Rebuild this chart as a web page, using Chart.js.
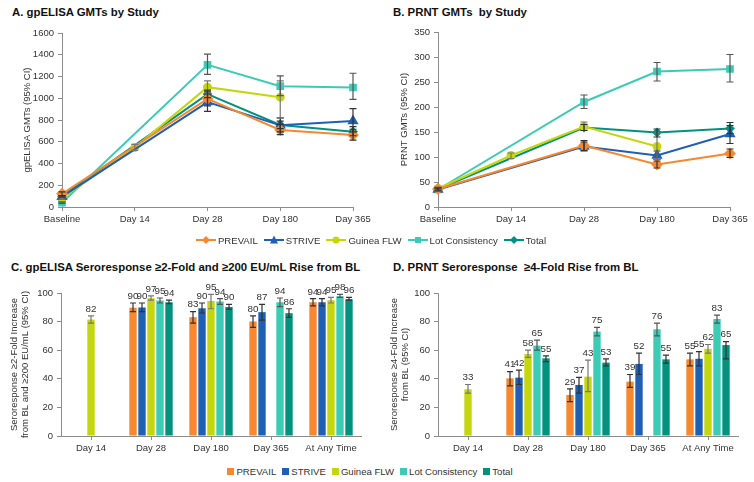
<!DOCTYPE html>
<html>
<head>
<meta charset="utf-8">
<script src="https://cdn.jsdelivr.net/npm/chart.js@4.4.1/dist/chart.umd.min.js"></script>
<style>
  body { margin: 0; background: #fff; font-family: "Liberation Sans", Arial, sans-serif; }
  #page { position: relative; width: 754px; height: 482px; overflow: hidden; }
  .box { position: absolute; }
  .title { position: absolute; font-weight: bold; font-size: 11.4px; color: #111; white-space: pre; }
  .legend { position: absolute; left: 0; display: flex; justify-content: center; align-items: center;
            font-size: 9.6px; color: #333; white-space: nowrap; }
  .legend .item { display: flex; align-items: center; margin: 0 3px; }
  .legend svg { margin-right: 2px; }
  .legend .sq { width: 7px; height: 7px; margin-right: 2px; display: inline-block; }
</style>
</head>
<body>
<div id="page">
  <div class="title" style="left:12px; top:6px;">A. gpELISA GMTs by Study</div>
  <div class="title" style="left:393px; top:6px;">B. PRNT GMTs  by Study</div>
  <div class="title" style="left:11px; top:261px;">C. gpELISA Seroresponse ≥2-Fold and ≥200 EU/mL Rise from BL</div>
  <div class="title" style="left:393px; top:261px;">D. PRNT Seroresponse  ≥4-Fold Rise from BL</div>

  <div class="box" style="left:0; top:0; width:377px; height:232px;"><canvas id="chartA"></canvas></div>
  <div class="box" style="left:377px; top:0; width:377px; height:232px;"><canvas id="chartB"></canvas></div>
  <div class="box" style="left:0; top:240px; width:377px; height:220px;"><canvas id="chartC"></canvas></div>
  <div class="box" style="left:377px; top:240px; width:377px; height:220px;"><canvas id="chartD"></canvas></div>

  <div class="legend" id="legendLines" style="top:232px; width:742px; height:16px;"></div>
  <div class="legend" id="legendBars" style="top:463px; width:740px; height:16px;"></div>
</div>

<script>
const timepoints = ["Baseline", "Day 14", "Day 28", "Day 180", "Day 365"];
const seroTimepoints = ["Day 14", "Day 28", "Day 180", "Day 365", "At Any Time"];
const seriesNames = ["PREVAIL", "STRIVE", "Guinea FLW", "Lot Consistency", "Total"];
const seriesColors = ["#F7882F", "#1F5FB4", "#C4D70E", "#3CCBB5", "#00927D"];
const markerStyles = ["rectRot", "triangle", "circle", "rect", "rectRot"];
const markerSizes = [4.5, 4.5, 3.5, 4, 3.5];
const errColors = ["#333", "#333", "#777", "#555", "#333"];

// A. gpELISA GMTs (rows follow seriesNames)
const elisaGmt = [
  [122, null, 995, 708, 662],
  [95, null, 965, 751, 791],
  [82, 546, 1102, 1010, null],
  [40, null, 1307, 1111, 1099],
  [98, null, 1038, 754, 693]
];
const elisaGmtLow = [
  [105, null, 930, 665, 615],
  [85, null, 880, 690, 690],
  [72, 520, 1050, 820, null],
  [33, null, 1220, 1025, 990],
  [92, null, 1005, 720, 655]
];
const elisaGmtHigh = [
  [140, null, 1060, 760, 715],
  [105, null, 1040, 820, 905],
  [92, 575, 1160, 1160, null],
  [48, null, 1405, 1205, 1230],
  [104, null, 1075, 790, 740]
];

// B. PRNT GMTs
const prntGmt = [
  [36, null, 123, 85, 107],
  [35, null, 121, 103, 146],
  [37, 103, 161, 121, null],
  [35, null, 210, 271, 276],
  [36, null, 159, 149, 157]
];
const prntGmtLow = [
  [33, null, 113, 78, 99],
  [32, null, 112, 95, 127],
  [34, 97, 153, 95, null],
  [32, null, 197, 252, 250],
  [34, null, 153, 140, 147]
];
const prntGmtHigh = [
  [39, null, 133, 92, 116],
  [38, null, 130, 112, 163],
  [40, 108, 170, 148, null],
  [38, null, 224, 289, 305],
  [38, null, 165, 156, 169]
];

// C. gpELISA seroresponse (%)
const elisaSero = [
  [null, 89.6, 83.1, 80.1, 93.6],
  [null, 89.8, 89.3, 86.6, 93.6],
  [81.4, 96.3, 94.4, null, 95.0],
  [null, 94.8, 94.0, 93.6, 97.8],
  [null, 93.5, 90.2, 85.9, 95.7]
];
const elisaSeroLabels = [
  [null, 90, 83, 80, 94],
  [null, 90, 90, 87, 94],
  [82, 97, 95, null, 95],
  [null, 95, 94, 94, 98],
  [null, 94, 90, 86, 96]
];
const elisaSeroLow = [
  [null, 87, 79, 76, 91],
  [null, 87, 86, 81, 91],
  [79, 95, 89, null, 93],
  [null, 93, 92, 90.5, 97],
  [null, 92.5, 88.5, 83, 95]
];
const elisaSeroHigh = [
  [null, 93, 87, 84, 96],
  [null, 93, 93, 92, 96],
  [84, 98, 99, null, 97],
  [null, 96.5, 96, 96.5, 99],
  [null, 95, 92, 89, 97]
];

// D. PRNT seroresponse (%)
const prntSero = [
  [null, 40.3, 28.7, 38.0, 53.6],
  [null, 40.8, 35.7, 50.4, 54.0],
  [32.6, 57.3, 41.5, null, 61.0],
  [null, 63.2, 73.0, 74.6, 81.8],
  [null, 54.3, 51.3, 53.6, 63.6]
];
const prntSeroLabels = [
  [null, 41, 29, 39, 55],
  [null, 42, 37, 52, 55],
  [33, 58, 43, null, 62],
  [null, 65, 75, 76, 83],
  [null, 55, 53, 55, 65]
];
const prntSeroLow = [
  [null, 35, 24, 34, 49],
  [null, 36, 30, 43, 49],
  [30, 55, 31, null, 58],
  [null, 60, 70, 70, 79],
  [null, 52, 49, 51, 54]
];
const prntSeroHigh = [
  [null, 45, 33, 43, 58],
  [null, 46, 41, 58, 59],
  [36, 60, 53, null, 64],
  [null, 67, 76, 79, 84.5],
  [null, 56, 54, 56.5, 66]
];

Chart.defaults.font.family = '"Liberation Sans", Arial, sans-serif';
Chart.defaults.font.size = 9.5;
Chart.defaults.color = "#333";

const axisColor = "#8c8c8c";

// draws the CI whiskers and, for the bar panels, the value above each whisker
const errorBars = {
  id: "errorBars",
  afterDatasetsDraw(chart) {
    const ctx = chart.ctx;
    const yScale = chart.scales.y;
    const cap = chart.config.type === "bar" ? 3 : 3.5;
    chart.data.datasets.forEach((ds, di) => {
      const meta = chart.getDatasetMeta(di);
      meta.data.forEach((el, i) => {
        if (ds.errLow[i] == null) return;
        const x = el.x;
        const yl = yScale.getPixelForValue(ds.errLow[i]);
        const yh = yScale.getPixelForValue(ds.errHigh[i]);
        ctx.save();
        ctx.strokeStyle = ds.errColor;
        ctx.lineWidth = 1.2;
        ctx.beginPath();
        ctx.moveTo(x, yl); ctx.lineTo(x, yh);
        ctx.moveTo(x - cap, yl); ctx.lineTo(x + cap, yl);
        ctx.moveTo(x - cap, yh); ctx.lineTo(x + cap, yh);
        ctx.stroke();
        if (ds.valueLabels && ds.valueLabels[i] != null) {
          ctx.fillStyle = "#333";
          ctx.font = '9.8px "Liberation Sans", Arial, sans-serif';
          ctx.textAlign = "center";
          ctx.textBaseline = "bottom";
          ctx.fillText(String(ds.valueLabels[i]), x, yh - 2);
        }
        ctx.restore();
      });
    });
  }
};

function xAxis(height, offset) {
  return {
    offset: offset,
    grid: { display: true, drawOnChartArea: false, offset: false, tickLength: 4, color: axisColor },
    border: { color: axisColor },
    ticks: { padding: 3, maxRotation: 0, autoSkip: false, color: "#333" },
    afterFit: (s) => { s.height = height; }
  };
}

function yAxis(max, step, title, width, titlePad) {
  return {
    min: 0,
    max: max,
    grid: { display: true, drawOnChartArea: false, tickLength: 4, color: axisColor },
    border: { color: axisColor },
    ticks: { stepSize: step, padding: 4, color: "#333", callback: (v) => String(v) },
    title: {
      display: true, text: title, color: "#333",
      font: { size: 9.5, lineHeight: 1.15 },
      padding: { top: titlePad, bottom: 0 }
    },
    afterFit: (s) => { s.width = width; }
  };
}

function makeLineChart(id, values, low, high, yMax, yStep, yTitle, padTop, yWidth, titlePad) {
  new Chart(document.getElementById(id), {
    type: "line",
    data: {
      labels: timepoints,
      datasets: seriesNames.map((name, s) => ({
        label: name,
        data: values[s],
        errLow: low[s],
        errHigh: high[s],
        errColor: errColors[s],
        borderColor: seriesColors[s],
        backgroundColor: seriesColors[s],
        pointBackgroundColor: seriesColors[s],
        pointBorderColor: seriesColors[s],
        pointStyle: markerStyles[s],
        pointRadius: markerSizes[s],
        borderWidth: 2,
        spanGaps: true,
        tension: 0
      }))
    },
    options: {
      responsive: true,
      maintainAspectRatio: false,
      animation: false,
      layout: { padding: { top: padTop, right: 24, left: 0, bottom: 0 } },
      plugins: { legend: { display: false }, tooltip: { enabled: false } },
      scales: {
        x: xAxis(25, false),
        y: yAxis(yMax, yStep, yTitle, yWidth, titlePad)
      }
    },
    plugins: [errorBars]
  });
}

function makeBarChart(id, values, labels, low, high, yTitle, titlePad) {
  new Chart(document.getElementById(id), {
    type: "bar",
    data: {
      labels: seroTimepoints,
      datasets: seriesNames.map((name, s) => ({
        label: name,
        data: values[s],
        valueLabels: labels[s],
        errLow: low[s],
        errHigh: high[s],
        errColor: errColors[s],
        backgroundColor: seriesColors[s],
        barPercentage: 0.82,
        categoryPercentage: 0.75
      }))
    },
    options: {
      responsive: true,
      maintainAspectRatio: false,
      animation: false,
      layout: { padding: { top: 53, right: 16, left: 0, bottom: 0 } },
      plugins: { legend: { display: false }, tooltip: { enabled: false } },
      scales: {
        x: xAxis(24, true),
        y: yAxis(100, 20, yTitle, 61, titlePad)
      }
    },
    plugins: [errorBars]
  });
}

makeLineChart("chartA", elisaGmt, elisaGmtLow, elisaGmtHigh, 1600, 200, "gpELISA GMTs (95% CI)", 33, 62, 22);
makeLineChart("chartB", prntGmt, prntGmtLow, prntGmtHigh, 350, 50, "PRNT GMTs (95% CI)", 32, 61, 22);
makeBarChart("chartC", elisaSero, elisaSeroLabels, elisaSeroLow, elisaSeroHigh,
  ["Seroresponse ≥2-Fold Increase", "from BL and ≥200 EU/mL (95% CI)"], 9);
makeBarChart("chartD", prntSero, prntSeroLabels, prntSeroLow, prntSeroHigh,
  ["Seroresponse ≥4-Fold Increase", "from BL (95% CI)"], 12);

// shared legends
function markerSvg(style, color) {
  let shape = "";
  if (style === "rectRot") shape = `<polygon points="10,1 14,5 10,9 6,5" fill="${color}"/>`;
  if (style === "triangle") shape = `<polygon points="10,0.5 14,8.5 6,8.5" fill="${color}"/>`;
  if (style === "circle") shape = `<circle cx="10" cy="5" r="3.5" fill="${color}"/>`;
  if (style === "rect") shape = `<rect x="7" y="2" width="6" height="6" fill="${color}"/>`;
  return `<svg width="20" height="10"><line x1="0" y1="5" x2="20" y2="5" stroke="${color}" stroke-width="2"/>${shape}</svg>`;
}

const legendLines = document.getElementById("legendLines");
const legendBars = document.getElementById("legendBars");
seriesNames.forEach((name, s) => {
  const a = document.createElement("span");
  a.className = "item";
  a.innerHTML = markerSvg(markerStyles[s], seriesColors[s]) + name;
  legendLines.appendChild(a);
  const b = document.createElement("span");
  b.className = "item";
  b.innerHTML = `<span class="sq" style="background:${seriesColors[s]}"></span>` + name;
  legendBars.appendChild(b);
});
</script>
</body>
</html>
